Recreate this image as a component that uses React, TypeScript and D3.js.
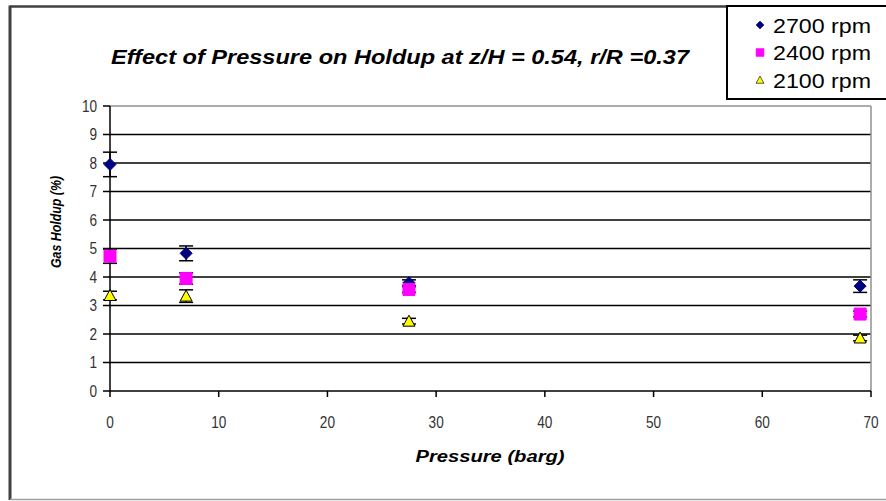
import React from "react";
import * as d3 from "d3";

// values
const pressure = [0, 7, 27.5, 69];
const holdup2700 = [7.95, 4.83, 3.8, 3.68];
const err2700 = [0.43, 0.26, 0.1, 0.22];
const holdup2400 = [4.73, 3.95, 3.56, 2.7];
const err2400 = [0.25, 0.2, 0.1, 0.1];
const holdup2100 = [3.35, 3.33, 2.45, 1.86];
const err2100 = [0.15, 0.22, 0.1, 0.1];
const seriesNames = ["2700 rpm", "2400 rpm", "2100 rpm"];
const xTicks = [0, 10, 20, 30, 40, 50, 60, 70];
const yTicks = [0, 1, 2, 3, 4, 5, 6, 7, 8, 9, 10];

const width = 886;
const height = 501;
const plot = { left: 110, right: 871, top: 106, bottom: 391 };

const xScale = d3.scaleLinear().domain([0, 70]).range([plot.left, plot.right]);
const yScale = d3.scaleLinear().domain([0, 10]).range([plot.bottom, plot.top]);

const font = "Arial, 'Liberation Sans', Helvetica, sans-serif";

function markerPath(kind: string) {
  const p = d3.path();
  if (kind === "diamond") {
    p.moveTo(0, -6); p.lineTo(6, 0); p.lineTo(0, 6); p.lineTo(-6, 0); p.closePath();
  } else if (kind === "square") {
    p.rect(-6, -6, 12, 12);
  } else {
    p.moveTo(0, -6); p.lineTo(6, 5); p.lineTo(-6, 5); p.closePath();
  }
  return p.toString();
}

const series = [
  { name: seriesNames[0], values: holdup2700, errs: err2700, kind: "diamond", fill: "#000080", stroke: "#000080" },
  { name: seriesNames[1], values: holdup2400, errs: err2400, kind: "square", fill: "#FF00FF", stroke: "#FF00FF" },
  { name: seriesNames[2], values: holdup2100, errs: err2100, kind: "triangle", fill: "#FFFF00", stroke: "#000000" },
];

// narrow tick label: horizontally squeezed text
const Narrow = (props: any) => {
  const { x, y, anchor, size, sx, children, ...rest } = props;
  return (
    <text transform={`translate(${x},${y}) scale(${sx},1)`} textAnchor={anchor} fontSize={size} {...rest}>
      {children}
    </text>
  );
};

const App = () => {
  return (
    <svg width={width} height={height} style={{ position: "absolute", left: 0, top: 0, background: "#fff" }}
      fontFamily={font}>
      {/* outer chart frame */}
      <line x1={10} y1={6.5} x2={width} y2={6.5} stroke="#404040" strokeWidth={2.5} />
      <line x1={10} y1={5.5} x2={10} y2={500} stroke="#404040" strokeWidth={3} />
      <line x1={10} y1={499.5} x2={width} y2={499.5} stroke="#a0a0a0" strokeWidth={1.5} />

      {/* title */}
      <text x={400} y={64} textAnchor="middle" fontSize={21} fontWeight="bold" fontStyle="italic"
        textLength={578} lengthAdjust="spacingAndGlyphs" fill="#000">
        Effect of Pressure on Holdup at z/H = 0.54, r/R =0.37
      </text>

      {/* gridlines */}
      {yTicks.filter(t => t > 0 && t < 10).map(t => (
        <line key={"g" + t} x1={plot.left} x2={plot.right} y1={yScale(t)} y2={yScale(t)} stroke="#000" strokeWidth={1.5} />
      ))}
      <line x1={plot.left} x2={plot.right} y1={yScale(10)} y2={yScale(10)} stroke="#909090" strokeWidth={1.5} />
      <line x1={plot.right} x2={plot.right} y1={yScale(10)} y2={yScale(0)} stroke="#909090" strokeWidth={1.5} />

      {/* y axis */}
      <line x1={plot.left} x2={plot.left} y1={yScale(10)} y2={yScale(0)} stroke="#000" strokeWidth={1.5} />
      {yTicks.map(t => (
        <g key={"y" + t}>
          <line x1={plot.left - 7} x2={plot.left} y1={yScale(t)} y2={yScale(t)} stroke="#000" strokeWidth={1.5} />
          <Narrow x={97} y={yScale(t) + 5.5} anchor="end" size={16} sx={0.85} fill="#333">{t}</Narrow>
        </g>
      ))}

      {/* x axis */}
      <line x1={plot.left} x2={plot.right} y1={yScale(0)} y2={yScale(0)} stroke="#000" strokeWidth={1.5} />
      {xTicks.map(t => (
        <g key={"x" + t}>
          <line x1={xScale(t)} x2={xScale(t)} y1={yScale(0)} y2={yScale(0) + 6} stroke="#000" strokeWidth={1.5} />
          <Narrow x={xScale(t)} y={428} anchor="middle" size={16} sx={0.85} fill="#333">{t}</Narrow>
        </g>
      ))}

      {/* axis titles */}
      <text x={490} y={462} textAnchor="middle" fontSize={16} fontWeight="bold" fontStyle="italic" fill="#000"
        textLength={149} lengthAdjust="spacingAndGlyphs">
        Pressure (barg)
      </text>
      <text transform={`translate(61,222) rotate(-90)`} textAnchor="middle" fontSize={15} fontWeight="bold"
        fontStyle="italic" fill="#000" textLength={92} lengthAdjust="spacingAndGlyphs">
        Gas Holdup (%)
      </text>

      {/* data */}
      {series.map(s => (
        <g key={s.name}>
          {s.values.map((v, i) => {
            const cx = xScale(pressure[i]);
            const y1 = yScale(v + s.errs[i]);
            const y2 = yScale(v - s.errs[i]);
            return (
              <g key={i}>
                <line x1={cx} x2={cx} y1={y1} y2={y2} stroke="#000" strokeWidth={1.5} />
                <line x1={cx - 7} x2={cx + 7} y1={y1} y2={y1} stroke="#000" strokeWidth={1.5} />
                <line x1={cx - 7} x2={cx + 7} y1={y2} y2={y2} stroke="#000" strokeWidth={1.5} />
              </g>
            );
          })}
          {s.values.map((v, i) => (
            <path key={"m" + i} d={markerPath(s.kind)} transform={`translate(${xScale(pressure[i])},${yScale(v)})`}
              fill={s.fill} stroke={s.stroke} strokeWidth={1} />
          ))}
        </g>
      ))}

      {/* legend */}
      <rect x={727} y={6} width={170} height={93} fill="#fff" stroke="#000" strokeWidth={2} />
      {series.map((s, i) => (
        <g key={"l" + s.name} transform={`translate(0,${25 + i * 27.5})`}>
          <path d={markerPath(s.kind)} transform="translate(760,0) scale(0.65)" fill={s.fill} stroke={s.stroke} strokeWidth={1} />
          <text x={773} y={7.5} fontSize={21} fill="#000" textLength={98} lengthAdjust="spacingAndGlyphs">{s.name}</text>
        </g>
      ))}
    </svg>
  );
};

export default App;
